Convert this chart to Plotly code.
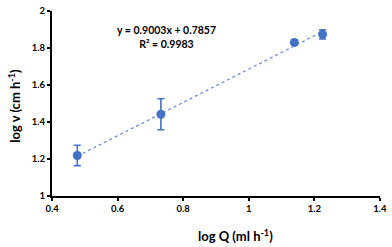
import plotly.graph_objects as go

log_q = [0.477, 0.732, 1.139, 1.225]
log_v = [1.219, 1.442, 1.830, 1.874]
err_v = [0.055, 0.084, 0.012, 0.025]
slope, intercept = 0.9003, 0.7857
r2 = 0.9983
x_ticks = [0.4, 0.6, 0.8, 1, 1.2, 1.4]
y_ticks = [1, 1.2, 1.4, 1.6, 1.8, 2]

blue = "#4472C4"
font = "Lato, 'Liberation Sans', sans-serif"

trend_x = [min(log_q), max(log_q)]
trend_y = [slope * x + intercept for x in trend_x]

fig = go.Figure()
fig.add_trace(go.Scatter(x=trend_x, y=trend_y, mode="lines",
                         line=dict(color="#6E8FD0", width=1.3, dash="dot"),
                         showlegend=False, hoverinfo="skip"))
fig.add_trace(go.Scatter(x=log_q, y=log_v, mode="markers",
                         marker=dict(color=blue, size=9),
                         error_y=dict(type="data", array=err_v, visible=True,
                                      color=blue, thickness=1.6, width=3.5),
                         showlegend=False, cliponaxis=False))

fig.add_annotation(xref="x", yref="y", x=0.75, y=1.86,
                   text=f"<b>y = {slope}x + {intercept}</b><br><b>R² = {r2}</b>",
                   showarrow=False, align="center",
                   font=dict(family=font, size=10.5, color="#000"))

axis_common = dict(showgrid=False, zeroline=False, showline=True, linecolor="#000",
                   linewidth=2, ticks="outside", ticklen=3, tickwidth=1.5,
                   tickcolor="#000", ticklabeloverflow="allow",
                   tickfont=dict(family=font, size=9.5, color="#000"))

fig.update_xaxes(range=[0.3999, 1.4001], tickvals=x_ticks,
                 ticktext=[f"<b>{t:g}</b>" for t in x_ticks], **axis_common)
fig.update_yaxes(range=[0.9999, 2.0001], tickvals=y_ticks,
                 ticktext=[f"<b>{t:g}</b>" for t in y_ticks], **axis_common)

fig.add_annotation(xref="paper", yref="paper", x=0.68, y=-0.216, yanchor="middle",
                   text="<b>log Q (ml h<sup>-1</sup>)</b>", showarrow=False,
                   font=dict(family=font, size=13, color="#000"))
fig.add_annotation(xref="paper", yref="paper", x=-0.115, y=0.49, xanchor="center",
                   text="<b>log v (cm h<sup>-1</sup>)</b>", showarrow=False, textangle=-90,
                   font=dict(family=font, size=13, color="#000"))

fig.update_layout(width=392, height=247, margin=dict(l=52, r=5, t=6, b=51),
                  plot_bgcolor="white", paper_bgcolor="white")

fig.write_html("out.html", config={"displayModeBar": False},
               post_script="document.body.style.margin='0';document.body.style.overflow='hidden';")
